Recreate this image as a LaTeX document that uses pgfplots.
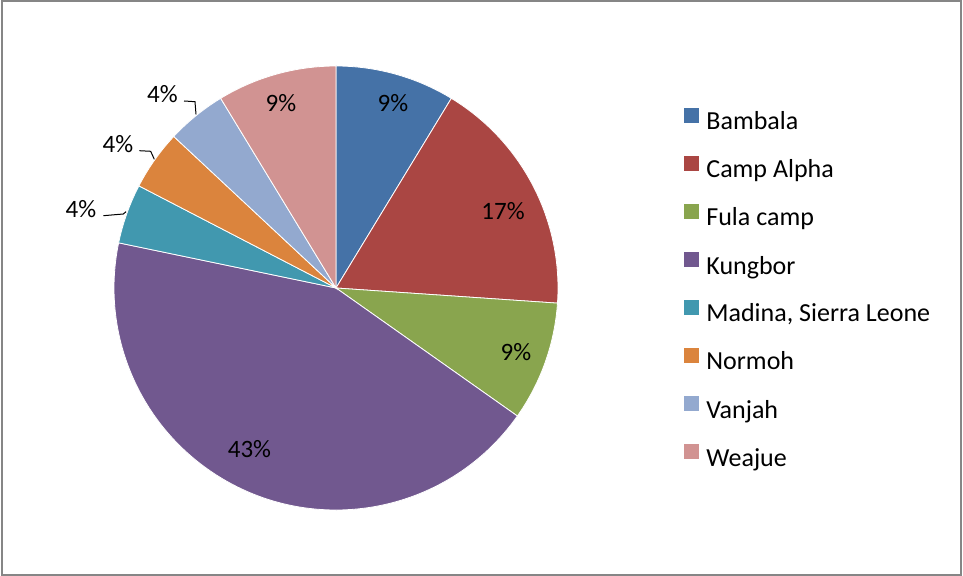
\documentclass[border=0pt]{standalone}
\usepackage{pgfplots}
\pgfplotsset{compat=1.18}
\usepackage{fontspec}
\setmainfont{Carlito}
\definecolor{cBam}{HTML}{4572A7}
\definecolor{cCamp}{HTML}{AA4643}
\definecolor{cFula}{HTML}{89A54E}
\definecolor{cKung}{HTML}{71588F}
\definecolor{cMad}{HTML}{4198AF}
\definecolor{cNor}{HTML}{DB843D}
\definecolor{cVan}{HTML}{93A9CF}
\definecolor{cWea}{HTML}{D19392}
\definecolor{frame}{HTML}{868686}
% counts per camp (total 23): Bambala 2, Camp Alpha 4, Fula camp 2, Kungbor 10,
% Madina 1, Normoh 1, Vanjah 1, Weajue 2 -- slice{cum. start}{cum. end}{colour}
\newcommand\slice[3]{%
  \fill[#3, draw=white, line width=0.4pt] (axis cs:336,288) --
    (axis cs:{336+222*cos(90-360*#1/23)},{288-222*sin(90-360*#1/23)})
    arc[start angle={90-360*#1/23}, end angle={90-360*#2/23}, radius=111pt] -- cycle;}
\begin{document}
\begin{tikzpicture}
\begin{axis}[
  x=0.5pt, y=0.5pt,
  xmin=0, xmax=963, ymin=0, ymax=576,
  y dir=reverse,
  hide axis, clip=false, scale only axis,
  legend cell align=left,
  legend image code/.code={\fill[#1, draw=none] (0pt,0.3pt) rectangle (7.5pt,7.8pt); \path[draw=none, fill=none] (0pt,0pt) -- (11pt,0pt);},
  legend style={at={(axis cs:684,108)}, anchor=north west, draw=none, fill=none,
    inner sep=0pt, row sep=10.2pt, font=\fontsize{13}{15}\selectfont,
    nodes={inner sep=0pt, text height=9pt, text depth=3pt}},
]
\path (axis cs:0,0) rectangle (axis cs:963,576);
\draw[frame, line width=0.75pt] (axis cs:1.8,0.8) rectangle (axis cs:961.2,575.2);
\slice{0}{2}{cBam}
\slice{2}{6}{cCamp}
\slice{6}{8}{cFula}
\slice{8}{18}{cKung}
\slice{18}{19}{cMad}
\slice{19}{20}{cNor}
\slice{20}{21}{cVan}
\slice{21}{23}{cWea}
\addlegendimage{cBam}\addlegendentry{Bambala}
\addlegendimage{cCamp}\addlegendentry{Camp Alpha}
\addlegendimage{cFula}\addlegendentry{Fula camp}
\addlegendimage{cKung}\addlegendentry{Kungbor}
\addlegendimage{cMad}\addlegendentry{Madina, Sierra Leone}
\addlegendimage{cNor}\addlegendentry{Normoh}
\addlegendimage{cVan}\addlegendentry{Vanjah}
\addlegendimage{cWea}\addlegendentry{Weajue}
\begin{scope}[every node/.style={font=\fontsize{12.5}{15}\selectfont, inner sep=0pt}]
\node at (axis cs:393,103) {9\%};
\node at (axis cs:503,211) {17\%};
\node at (axis cs:516,352) {9\%};
\node at (axis cs:249.5,449.5) {43\%};
\node at (axis cs:81,209) {4\%};
\node at (axis cs:118,144) {4\%};
\node at (axis cs:162.5,94) {4\%};
\node at (axis cs:281,103) {9\%};
\end{scope}
\draw[black, line width=0.5pt] (axis cs:103.3,215.7) -- (axis cs:123.3,214) -- (axis cs:126,211.7);
\draw[black, line width=0.5pt] (axis cs:139.3,150.7) -- (axis cs:150.7,151.3) -- (axis cs:154.3,159.3);
\draw[black, line width=0.5pt] (axis cs:184,101) -- (axis cs:195,101.7) -- (axis cs:196,114.3);
\end{axis}
\end{tikzpicture}
\end{document}
